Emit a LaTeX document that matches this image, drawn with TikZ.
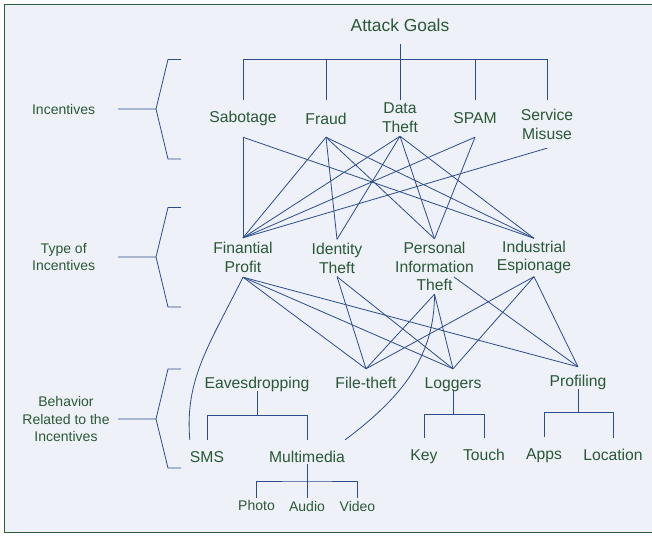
\documentclass[tikz,border=0pt]{standalone}
\usepackage{fontspec}
\setmainfont{Liberation Sans}
\usepackage{xcolor}
\usetikzlibrary{calc}
\definecolor{txtgreen}{RGB}{42,88,54}
\definecolor{linkblue}{RGB}{44,76,140}
\definecolor{paneback}{RGB}{238,241,247}
\definecolor{paneframe}{RGB}{46,90,62}
\tikzset{lab/.style={text=txtgreen,font=\fontsize{15.7}{18.8}\selectfont,inner sep=0pt},
  side/.style={text=txtgreen,font=\fontsize{14}{17.5}\selectfont,inner sep=0pt,align=center},
  beh/.style={lab,anchor=base,text height=19pt,text depth=2.5pt},
  leaf/.style={lab,anchor=base,text height=22pt,text depth=1.5pt},
  tiny/.style={text=txtgreen,font=\fontsize{14}{17}\selectfont,inner sep=0pt,anchor=base,text height=12.5pt,text depth=1pt},
  link/.style={linkblue,line width=0.8pt}}

\begin{document}
\begin{tikzpicture}[x=1pt,y=-1pt]
        \clip (0,0) rectangle (652,535);
        \fill[white] (0,0) rectangle (652,535);
        \draw[paneframe,line width=1.5pt,fill=paneback] (4.7,4.5) rectangle (700,532.5);

        \node[lab,font=\fontsize{17.4}{20}\selectfont,minimum height=38pt] (ag) at (400,25) {Attack Goals};

        \node[lab,minimum height=37pt] (sab) at (243,118.5) {Sabotage};
        \node[lab,minimum height=37pt] (fra) at (326,118.5) {Fraud};
        \node[lab,align=center,minimum height=36pt] (dat) at (400,118) {Data\\Theft};
        \node[lab,minimum height=37pt] (spa) at (475,118.5) {SPAM};
        \node[lab,align=center,minimum height=48pt] (ser) at (547,124) {Service\\Misuse};

        \node[lab,align=center,minimum height=39pt] (fin) at (243,257.5) {Finantial\\Profit};
        \node[lab,align=center,minimum height=37pt] (ide) at (337,258) {Identity\\Theft};
        \node[lab,align=center,minimum height=55pt] (pit) at (434.5,266.5) {Personal\\Information\\Theft};
        \node[lab,align=center,minimum height=38pt] (ind) at (534,257.5) {Industrial\\Espionage};
        \coordinate (pitr) at ([xshift=19.5pt,yshift=-10.5pt]pit.center);

        \node[beh] (eav) at (257,388) {Eavesdropping};
        \node[beh] (fil) at (366,388) {File-theft};
        \node[beh] (log) at (453,388) {Loggers};
        \node[beh] (pro) at (578,386) {Profiling};

        \node[leaf] (sms) at (207,462) {SMS};
        \node[leaf] (mul) at (307,462) {Multimedia};
        \node[leaf] (key) at (424,460) {Key};
        \node[leaf] (tou) at (484,460) {Touch};
        \node[leaf] (app) at (544,459) {Apps};
        \node[leaf] (loc) at (613,460) {Location};

        \node[tiny] (pho) at (256.5,510.5) {Photo};
        \node[tiny] (aud) at (307,511) {Audio};
        \node[tiny] (vid) at (357.5,511) {Video};

        \node[side] (lbinc) at (63.6,109) {Incentives};
        \node[side] (lbtyp) at (63.7,257) {Type of\\Incentives};
        \node[side] (lbbeh) at (66,419) {Behavior\\Related to the\\Incentives};

        \foreach \t/\m/\b in {59.5/109/159,207.5/257/307,369/419/468}
            \draw[link] (181,\t) -- (168,\t) -- (156,\m) -- (168,\b) -- (181,\b) (118,\m) -- (156,\m);

        \coordinate (topbar) at (400,59.5);
        \draw[link] (ag.south) -- (dat.north);
        \foreach \n in {sab,fra,spa,ser}
            \draw[link] (\n.north) |- (topbar);

        \foreach \a/\b in {sab/fin,sab/ind,fra/fin,fra/ide,fra/pit,fra/ind,dat/fin,dat/ide,dat/pit,dat/ind,spa/fin,spa/pit,ser/fin}
            \draw[link] (\a.south) -- (\b.north);

        \foreach \a/\b in {fin/fil,fin/log,fin/pro,ide/fil,ide/log,pit/fil,pit/log,ind/fil,ind/log,ind/pro}
            \draw[link] (\a.south) -- (\b.north);
        \draw[link] (pitr) -- (pro.north);
        \draw[link] (fin.south) .. controls +(-35,70) and +(-5,-60) .. (sms.north west);
        \draw[link] (pit.south) .. controls +(0,60) and +(60,-45) .. (mul.north east);

        \coordinate (eavbar) at ($(eav.south)!.5!(eav.south|-sms.north)$);
        \draw[link] (eav.south) -- (eavbar);
        \draw[link] (sms.north) |- (eavbar) -| (mul.north);

        \coordinate (logbar) at ($(log.south)!.5!(log.south|-key.north)$);
        \draw[link] (log.south) -- (logbar);
        \draw[link] (key.north) |- (logbar) -| (tou.north);

        \coordinate (probar) at ($(pro.south)!.5!(pro.south|-app.north)$);
        \draw[link] (pro.south) -- (probar);
        \draw[link] (app.north) |- (probar) -| (loc.north);

        \coordinate (mulbar) at ($(mul.south)!.5!(mul.south|-aud.north)$);
        \draw[link] (mul.south) -- (aud.north);
        \draw[link] (pho.north) |- (mulbar) -| (vid.north);
    \end{tikzpicture}
\end{document}
